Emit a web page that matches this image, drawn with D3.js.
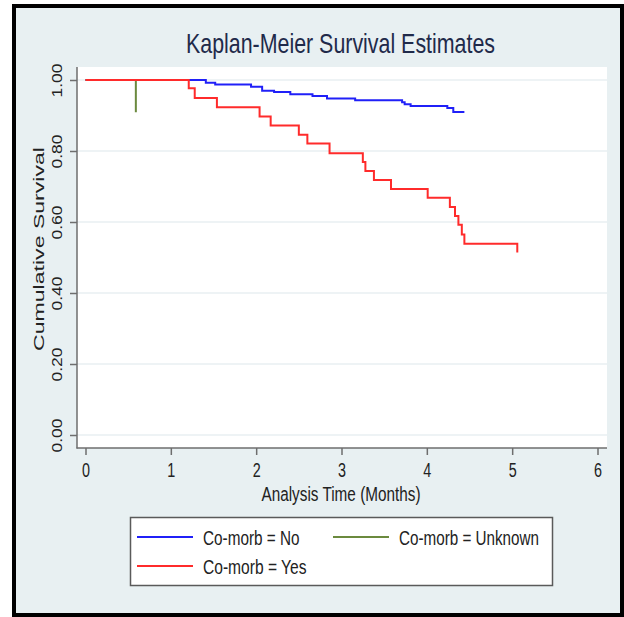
<!DOCTYPE html>
<html>
<head>
<meta charset="utf-8">
<script src="https://cdn.jsdelivr.net/npm/d3@7"></script>
<style>
body{margin:0;background:#fff;}
text{font-family:"Liberation Sans",Arial,sans-serif;}
</style>
</head>
<body>
<div id="chart"></div>
<script>
// survival data (time in months, cumulative survival)
var timeNo=[0,1.41,1.52,1.94,2.07,2.21,2.40,2.66,2.83,3.16,3.71,3.74,3.81,4.24,4.31,4.44];
var survNo=[1,0.992,0.987,0.981,0.970,0.966,0.960,0.955,0.948,0.943,0.937,0.932,0.927,0.921,0.910,0.910];

var timeUnk=[0,0.59];
var survUnk=[1,0.909];

var timeYes=[0,1.21,1.28,1.54,2.04,2.17,2.50,2.60,2.86,3.25,3.28,3.38,3.58,4.01,4.27,4.33,4.37,4.41,4.44,5.06];
var survYes=[1,0.977,0.949,0.923,0.897,0.872,0.846,0.821,0.794,0.769,0.744,0.718,0.693,0.668,0.642,0.617,0.592,0.565,0.539,0.514];

var xTicks=[0,1,2,3,4,5,6];
var yTicks=[0,0.2,0.4,0.6,0.8,1.0];

var groups=["Co-morb = No","Co-morb = Unknown","Co-morb = Yes"];
var colors=["#2020f8","#6b8a3e","#ff2b2b"];

var width=624,height=617;

var svg=d3.select("#chart").append("svg")
    .attr("width",width)
    .attr("height",height);

// outer frame
svg.append("rect").attr("x",14).attr("y",6).attr("width",608).attr("height",609)
    .attr("fill","#e8f0f2").attr("stroke","#000").attr("stroke-width",4);

// plot region
svg.append("rect").attr("x",77).attr("y",67).attr("width",530).attr("height",381)
    .attr("fill","#fff");

var x=d3.scaleLinear().domain([0,6]).range([85.5,597.5]);
var y=d3.scaleLinear().domain([0,1]).range([435,80]);

// grid lines
svg.append("g").selectAll("line").data(yTicks).enter().append("line")
    .attr("x1",77).attr("x2",607)
    .attr("y1",function(d){return y(d);}).attr("y2",function(d){return y(d);})
    .attr("stroke","#e8eff2").attr("stroke-width",1.5);

// title
svg.append("text").attr("x",340.5).attr("y",53)
    .attr("text-anchor","middle").attr("font-size",28)
    .attr("textLength",309).attr("lengthAdjust","spacingAndGlyphs")
    .attr("fill","#1f2a4a").text("Kaplan-Meier Survival Estimates");

// x axis
var gx=svg.append("g").attr("transform","translate(0,448)")
    .call(d3.axisBottom(x).tickValues(xTicks).tickSize(7).tickSizeOuter(0).tickFormat(d3.format("d")));
gx.select(".domain").remove();
gx.selectAll(".tick line").attr("stroke","#6e6e6e").attr("stroke-width",1.5);
gx.selectAll(".tick text").attr("y",29).attr("dy",0).attr("font-size",19.5)
    .attr("textLength",8).attr("lengthAdjust","spacingAndGlyphs").attr("fill","#222");

// y axis
var gy=svg.append("g").attr("transform","translate(77,0)")
    .call(d3.axisLeft(y).tickValues(yTicks).tickSize(7).tickSizeOuter(0).tickFormat(d3.format(".2f")));
gy.select(".domain").remove();
gy.selectAll(".tick line").attr("stroke","#6e6e6e").attr("stroke-width",1.5);
gy.selectAll(".tick text").attr("x",0).attr("dy",0)
    .attr("transform","translate(-15.5,0) rotate(-90)")
    .attr("text-anchor","middle").attr("font-size",14.5)
    .attr("textLength",34).attr("lengthAdjust","spacingAndGlyphs").attr("fill","#222");

// axis lines
svg.append("line").attr("x1",77).attr("x2",77).attr("y1",67).attr("y2",448.5)
    .attr("stroke","#6e6e6e").attr("stroke-width",1.5);
svg.append("line").attr("x1",76.5).attr("x2",607).attr("y1",448).attr("y2",448)
    .attr("stroke","#6e6e6e").attr("stroke-width",1.5);

// axis titles
svg.append("text").attr("x",341).attr("y",501)
    .attr("text-anchor","middle").attr("font-size",20)
    .attr("textLength",159).attr("lengthAdjust","spacingAndGlyphs")
    .attr("fill","#222").text("Analysis Time (Months)");

svg.append("text").attr("transform","translate(44,249) rotate(-90)")
    .attr("text-anchor","middle").attr("font-size",14.5)
    .attr("textLength",204).attr("lengthAdjust","spacingAndGlyphs")
    .attr("fill","#222").text("Cumulative Survival");

// survival curves
var line=d3.line()
    .x(function(d){return x(d[0]);})
    .y(function(d){return y(d[1]);})
    .curve(d3.curveStepAfter);

var series=[d3.zip(timeNo,survNo),d3.zip(timeUnk,survUnk),d3.zip(timeYes,survYes)];

svg.append("g").selectAll("path").data(series).enter().append("path")
    .attr("d",line)
    .attr("fill","none")
    .attr("stroke",function(d,i){return colors[i];})
    .attr("stroke-width",2);

// legend
var lg=svg.append("g");
lg.append("rect").attr("x",130.5).attr("y",517.5).attr("width",422).attr("height",68)
    .attr("fill","#fff").attr("stroke","#5a5a5a").attr("stroke-width",1.5);

var legPos=[[137,537],[333,537],[137,566]];
var legLen=[96.5,140,103.5];
groups.forEach(function(g,i){
    lg.append("line").attr("x1",legPos[i][0]).attr("x2",legPos[i][0]+56)
      .attr("y1",legPos[i][1]).attr("y2",legPos[i][1])
      .attr("stroke",colors[i]).attr("stroke-width",2);
    lg.append("text").attr("x",legPos[i][0]+66).attr("y",legPos[i][1]+7.5)
      .attr("font-size",20).attr("textLength",legLen[i]).attr("lengthAdjust","spacingAndGlyphs")
      .attr("fill","#222").text(g);
});
</script>
</body>
</html>
